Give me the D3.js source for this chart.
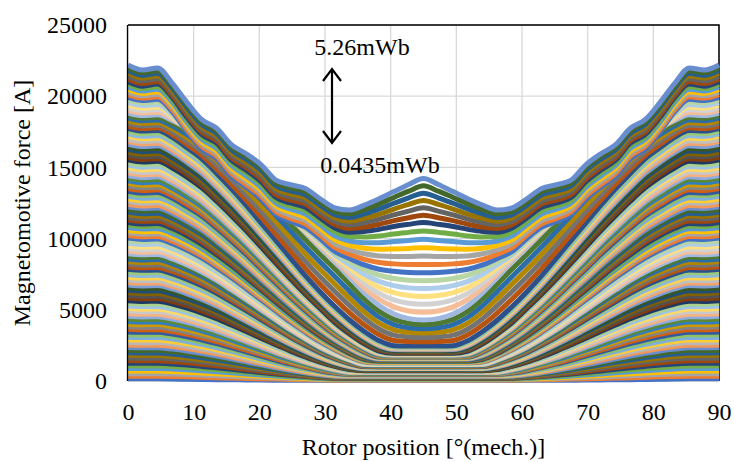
<!DOCTYPE html>
<html>
<head>
<meta charset="utf-8">
<script src="https://cdn.jsdelivr.net/npm/d3@7"></script>
<style>
  body { margin: 0; background: #fff; }
  svg text { font-family: "Liberation Serif", "Times New Roman", serif; fill: #000; }
</style>
</head>
<body>
<svg id="chart" width="734" height="462" font-family="Liberation Serif, Times New Roman, serif"></svg>
<script>
// rotor positions [deg] of the sampled points; curves mirror about 45 deg
var halfPositions = [0, 2.25, 4.5, 6.75, 9, 11.25, 13.5, 15.75, 18, 20.25, 22.5,
  24.75, 27, 29.25, 31.5, 33.75, 36, 38.25, 40.5, 42.75, 45];
var xTicks = [0, 10, 20, 30, 40, 50, 60, 70, 80, 90];
var yTicks = [0, 5000, 10000, 15000, 20000, 25000];
var seriesCount = 121;   // flux steps from 0.0435 mWb to 5.26 mWb

// MMF [A] of reference curves, by share of the flux range
var keyLevels = [0, 0.1, 0.2, 0.3, 0.4, 0.5, 0.6, 0.7, 0.8, 0.85, 0.9, 0.95, 1];
var mmf000 = [150, 150, 150, 140, 125, 110, 95, 85, 75, 65, 60, 55, 50, 50, 50, 50, 50, 50, 50, 50, 50];
var mmf010 = [2350, 2330, 2335, 2242, 2110, 1942, 1757, 1558, 1345, 1134, 929, 742, 574, 434, 340, 320, 320, 320, 320, 320, 320];
var mmf020 = [4540, 4500, 4510, 4346, 4113, 3821, 3501, 3130, 2755, 2368, 1988, 1625, 1301, 1013, 776, 602, 590, 590, 590, 590, 590];
var mmf030 = [6740, 6680, 6700, 6464, 6123, 5724, 5260, 4737, 4196, 3644, 3092, 2569, 2081, 1635, 1270, 1000, 865, 865, 865, 865, 865];
var mmf040 = [8940, 8860, 8890, 8581, 8152, 7653, 7060, 6389, 5703, 4993, 4283, 3581, 2950, 2349, 1865, 1460, 1160, 1140, 1140, 1140, 1140];
var mmf050 = [11135, 11030, 11060, 10707, 10201, 9598, 8869, 8101, 7264, 6409, 5543, 4697, 3900, 3170, 2528, 1955, 1527, 1410, 1410, 1410, 1410];
var mmf060 = [13330, 13200, 13240, 12829, 12223, 11571, 10732, 9823, 8891, 7878, 6888, 5886, 4942, 4045, 3253, 2600, 2041, 1690, 1680, 1680, 1680];
var mmf070 = [15530, 15380, 15430, 14960, 14321, 13561, 12624, 11605, 10546, 9419, 8278, 7165, 6092, 5101, 4109, 3308, 2615, 2100, 1950, 1950, 1950];
var mmf080 = [17725, 17550, 17600, 17114, 16381, 15602, 14578, 13494, 12333, 11111, 9874, 8636, 7399, 6269, 5230, 4283, 3473, 2832, 2480, 2455, 2450];
var mmf085 = [18820, 18640, 18700, 18297, 17759, 17090, 16319, 15447, 14516, 13557, 12510, 11477, 10445, 9413, 8400, 7300, 6200, 5300, 4700, 4380, 4280];
var mmf090 = [19920, 19700, 19780, 18900, 17500, 16300, 15600, 14400, 13600, 12800, 11700, 11200, 10800, 10000, 9100, 8600, 8150, 7850, 7700, 7620, 7600];
var mmf095 = [21020, 20700, 20850, 19900, 18500, 17300, 16700, 15500, 14800, 14000, 12900, 12500, 12200, 11450, 10750, 10450, 10500, 10650, 10850, 11000, 11130];
var mmf100 = [22190, 21840, 21980, 20900, 19550, 18350, 17750, 16600, 15960, 15200, 14115, 13780, 13520, 12800, 12150, 12000, 12350, 12800, 13300, 13800, 14220];
var keyCurves = [mmf000, mmf010, mmf020, mmf030, mmf040, mmf050, mmf060, mmf070, mmf080, mmf085, mmf090, mmf095, mmf100];

// Excel series colour cycle: accents, then shades and tints of them
var palette = [
  "#4472C4", "#ED7D31", "#A5A5A5", "#FFC000", "#5B9BD5", "#70AD47",
  "#264478", "#9E480E", "#636363", "#997300", "#255E91", "#43682B",
  "#698ED0", "#F1975A", "#B7B7B7", "#FFCD33", "#7CAFDD", "#8CC168",
  "#335AA1", "#D26012", "#848484", "#CC9A00", "#327DC2", "#5A8A39",
  "#8FAADC", "#F4B183", "#C9C9C9", "#FFD966", "#9DC3E6", "#A9D18E",
  "#203864", "#833C0B", "#525252", "#806000", "#1F4E79", "#385623",
  "#7C9DD6", "#F2A46F", "#C0C0C0", "#FFD34D", "#8CB9E2", "#9AC97B",
  "#2C508C", "#B85410", "#737373", "#B38600", "#2B6DA9", "#4E7932",
  "#A1B9E1", "#F6BE98", "#D2D2D2", "#FFE080", "#ADCDEA", "#B7D6A3"
];

var width = 734, height = 462,
    margin = {top: 25, right: 15, bottom: 81, left: 128};

var svg = d3.select("#chart");
var x = d3.scaleLinear().domain([0, 90]).range([margin.left, width - margin.right]);
var y = d3.scaleLinear().domain([0, 25000]).range([height - margin.bottom, margin.top]);

//
// full 0..90 deg sample grid
var positions = halfPositions.concat(halfPositions.slice(0, -1).reverse().map(function(p) { return 90 - p; }));
function mirror(vals) { return vals.concat(vals.slice(0, -1).reverse()); }

var series = d3.range(seriesCount).map(function(i) {
  var f = i / (seriesCount - 1),
      k = Math.min(keyLevels.length - 2, d3.bisectRight(keyLevels, f) - 1),
      t = (f - keyLevels[k]) / (keyLevels[k + 1] - keyLevels[k]),
      lo = keyCurves[k], hi = keyCurves[k + 1];
  var vals = lo.map(function(v, j) { return v + (hi[j] - v) * t; });
  return mirror(vals).map(function(v, j) { return {pos: positions[j], mmf: v}; });
});

//
// grid
svg.append("g").selectAll("line").data(xTicks).enter().append("line")
  .attr("x1", x).attr("x2", x).attr("y1", y(0)).attr("y2", y(25000))
  .attr("stroke", "#d9d9d9").attr("stroke-width", 1.3);
svg.append("g").selectAll("line").data(yTicks).enter().append("line")
  .attr("x1", x(0)).attr("x2", x(90)).attr("y1", y).attr("y2", y)
  .attr("stroke", "#d9d9d9").attr("stroke-width", 1.3);

// frame (top and right), under the data
svg.append("path")
  .attr("d", "M" + x(0) + "," + y(25000) + "H" + x(90) + "V" + y(0))
  .attr("fill", "none").attr("stroke", "#000").attr("stroke-width", 1.5);

//
// curves, lowest flux first
var line = d3.line()
  .x(function(d) { return x(d.pos); })
  .y(function(d) { return y(d.mmf); })
  .curve(d3.curveMonotoneX);

svg.append("g").selectAll("path").data(series).enter().append("path")
  .attr("d", line)
  .attr("fill", "none")
  .attr("stroke", function(d, i) { return palette[i % palette.length]; })
  .attr("stroke-width", 5)
  .attr("stroke-linejoin", "round");

// left axis line over the data
svg.append("line")
  .attr("x1", x(0) - 0.5).attr("x2", x(0) - 0.5).attr("y1", y(25000)).attr("y2", y(0))
  .attr("stroke", "#000").attr("stroke-width", 1.3);

//
// axes
var xAxis = svg.append("g").attr("transform", "translate(0," + y(0) + ")")
  .call(d3.axisBottom(x).tickValues(xTicks).tickSize(0).tickPadding(22));
var yAxis = svg.append("g").attr("transform", "translate(" + x(0) + ",0)")
  .call(d3.axisLeft(y).tickValues(yTicks).tickSize(0).tickPadding(21).tickFormat(d3.format("d")));
[xAxis, yAxis].forEach(function(ax) {
  ax.attr("font-family", null).attr("font-size", null);
  ax.select(".domain").remove();
  ax.selectAll("text").attr("font-size", 24).attr("fill", "#000");
});

svg.append("text")
  .attr("x", x(45)).attr("y", 455)
  .attr("text-anchor", "middle").attr("font-size", 24)
  .text("Rotor position [°(mech.)]");
svg.append("text")
  .attr("transform", "translate(30," + y(12500) + ") rotate(-90)")
  .attr("text-anchor", "middle").attr("font-size", 24)
  .text("Magnetomotive force [A]");

//
// flux annotation
svg.append("text").attr("x", 362).attr("y", 55).attr("text-anchor", "middle")
  .attr("font-size", 24).text("5.26mWb");
svg.append("text").attr("x", 380).attr("y", 173).attr("text-anchor", "middle")
  .attr("font-size", 24).text("0.0435mWb");

var ax0 = 332, ay0 = 69, ay1 = 143;
svg.append("path")
  .attr("d", "M" + ax0 + "," + ay0 + "V" + ay1 +
             "M" + (ax0 - 9) + "," + (ay0 + 12) + "L" + ax0 + "," + ay0 + "L" + (ax0 + 9) + "," + (ay0 + 12) +
             "M" + (ax0 - 9) + "," + (ay1 - 12) + "L" + ax0 + "," + ay1 + "L" + (ax0 + 9) + "," + (ay1 - 12))
  .attr("fill", "none").attr("stroke", "#000").attr("stroke-width", 2.2);
</script>
</body>
</html>
